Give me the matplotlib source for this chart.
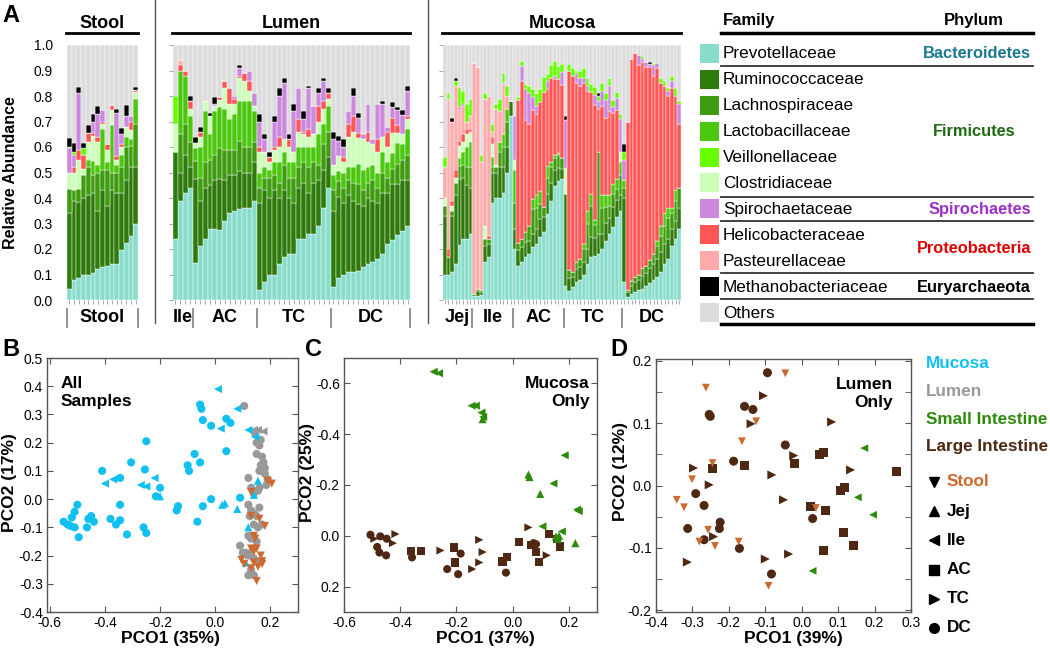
import numpy as np
import matplotlib
matplotlib.use('Agg')
import matplotlib.pyplot as plt
from matplotlib.patches import Rectangle
from matplotlib.transforms import blended_transform_factory

plt.rcParams['font.family'] = ['Liberation Sans', 'DejaVu Sans']
plt.rcParams['axes.unicode_minus'] = False

# ---------------- Panel A data ----------------
families = ['Prevotellaceae', 'Ruminococcaceae', 'Lachnospiraceae', 'Lactobacillaceae',
            'Veillonellaceae', 'Clostridiaceae', 'Spirochaetaceae', 'Helicobacteraceae',
            'Pasteurellaceae', 'Methanobacteriaceae']
family_colors = ['#88DCCB', '#2F7A0C', '#3F9C10', '#4CC70F', '#66FF00', '#CCFFB8',
                 '#CC88DD', '#FF5555', '#FFAAAA', '#000000']
others_label = 'Others'
others_color = '#DCDCDC'
# stacking order (indices into families), bottom to top
stack_order = [0, 1, 2, 3, 5, 7, 8, 6, 4, 9]

phyla = ['Bacteroidetes', 'Firmicutes', 'Spirochaetes', 'Proteobacteria', 'Euryarchaeota']
phyla_colors = ['#1A7A8E', '#1E6B14', '#9B30C8', '#E00000', '#000000']

# Stool (15 samples)
stool_groups = ['Stool']
stool_sizes = [15]
stool_prev = [.045, .078, .085, .098, .10, .105, .12, .13, .135, .14, .14, .195, .225, .25, .30]
stool_rum = [.295, .312, .30, .302, .31, .315, .23, .30, .235, .29, .28, .225, .245, .27, .22]
stool_lach = [.095, .04, .05, .09, .11, .07, .15, .08, .14, .07, .08, .10, .13, .085, .17]
stool_lacto = [0, 0, 0, 0, .03, .055, .03, .16, .03, .185, .03, .05, .04, .025, .10]
stool_veil = [.005, .01, 0, .025, 0, 0, 0, 0, 0, 0, 0, 0, 0, 0, 0]
stool_clos = [.065, .07, .115, .025, .07, .10, .09, .02, .05, .06, .02, .03, .04, .035, .025]
stool_spiro = [.095, .05, .22, 0, 0, .045, .09, .045, 0, 0, .17, .04, .04, .02, 0]
stool_helico = [0, .02, .04, .055, .035, .01, .02, .01, .02, .02, .015, .01, 0, .035, .01]
stool_past = [0, 0, 0, 0, 0, 0, 0, 0, 0, 0, 0, 0, 0, 0, 0]
stool_meth = [.035, .035, .025, .02, .03, .03, .03, 0, 0, 0, .015, .025, .045, 0, .01]

# Lumen (Ile 4, AC 13, TC 15, DC 16)
lumen_groups = ['Ile', 'AC', 'TC', 'DC']
lumen_sizes = [4, 13, 15, 16]
lumen_prev = [.24, .39, .42, .44,
              .145, .21, .24, .28, .28, .275, .31, .34, .35, .355, .36, .36, .39,
              .04, .07, .10, .10, .14, .17, .18, .18, .24, .24, .26, .26, .29, .36, .44,
              .05, .085, .10, .11, .11, .115, .13, .14, .15, .16, .18, .22, .235, .255, .27, .29]
lumen_rum = [.34, .11, .15, .08,
             .33, .18, .20, .17, .19, .20, .16, .15, .14, .15, .14, .14, .15,
             .34, .36, .30, .33, .26, .26, .22, .20, .20, .22, .16, .20, .18, .15, .12,
             .30, .32, .28, .30, .28, .26, .24, .26, .24, .22, .24, .20, .22, .20, .20, .18]
lumen_lach = [0, .15, .12, .10,
              .07, .09, .10, .10, .10, .12, .12, .10, .10, .12, .10, .10, .08,
              .06, .05, .08, .06, .06, .10, .08, .10, .08, .08, .10, .08, .06, .10, .10,
              .08, .06, .06, .06, .07, .08, .06, .06, .08, .06, .08, .06, .06, .08, .08, .10]
lumen_lacto = [0, .25, .19, .10,
               .05, .12, .20, .10, .17, .16, .16, .12, .14, .155, .18, .18, .12,
               .06, .04, .03, .05, .08, .05, .06, .06, .08, .06, .08, .06, .12, .08, .10,
               .06, .04, .06, .05, .06, .08, .08, .06, .06, .06, .08, .06, .06, .08, .06, .10]
lumen_veil = [.11, 0, 0, 0,
              0, 0, 0, 0, 0, 0, 0, 0, 0, 0, 0, 0, 0,
              0, 0, 0, 0, 0, 0, 0, 0, 0, 0, 0, 0, 0, 0, 0,
              0, 0, 0, 0, 0, 0, 0, 0, 0, 0, 0, 0, 0, 0, 0, 0]
lumen_clos = [.11, 0, 0, .03,
              .02, .04, .04, .07, .02, .03, .08, .06, .04, .09, .08, .04, .02,
              .08, .06, .03, .05, .06, .05, .06, .04, .06, .05, .04, .05, .05, .06, .03,
              .04, .06, .04, .12, .14, .10, .12, .10, .08, .08, .06, .06, .08, .04, .04, .04]
lumen_spiro = [0, 0, 0, 0,
               0, 0, 0, 0, .01, 0, 0, 0, .01, .03, 0, .04, .05,
               .10, .05, 0, .10, .16, .22, 0, .16, .12, .05, .16, .11, .05, .08, 0,
               .10, .06, .04, .05, .08, .06, .02, .11, .02, .14, .13, .02, .04, .06, .075, .10]
lumen_helico = [0, .02, .02, .03,
                0, .02, 0, 0, 0, .01, .03, .06, .02, .01, .03, .04, 0,
                .02, 0, .02, .01, .04, 0, .03, 0, .05, .01, .03, 0, .06, .03, .02,
                0, 0, .02, .05, .06, .02, 0, .04, 0, .05, 0, .06, .06, .03, 0, .01]
lumen_past = [0, .02, 0, 0,
              0, 0, 0, 0, 0, 0, 0, 0, 0, 0, 0, 0, 0,
              0, 0, 0, 0, 0, 0, 0, 0, 0, 0, 0, 0, 0, 0, 0,
              0, 0, 0, 0, 0, 0, 0, 0, 0, 0, 0, 0, 0, 0, 0, 0]
lumen_meth = [0, 0, 0, .02,
              .025, .02, 0, .015, .025, 0, 0, 0, 0, .01, 0, 0, 0,
              .03, .02, .02, .02, .03, .02, .02, .03, 0, .03, .01, 0, .02, .01, .02,
              .03, .02, .03, 0, .03, .02, 0, 0, 0, 0, .01, 0, .02, .01, .02, .02]

# Mucosa (Jej 8, Ile 11, AC 14, TC 16, DC 16)
mucosa_groups = ['Jej', 'Ile', 'AC', 'TC', 'DC']
mucosa_sizes = [8, 11, 14, 16, 16]
mucosa_prev = [.10, .10, .11, .14, .215, .24, .24, .26,
               .015, .015, .02, .15, .17, .38, .40, .40, .42, .50, .72,
               .20, .135, .148, .167, .18, .207, .22, .246, .265, .337, .39, .448, .468, .475,
               .056, .037, .05, .07, .08, .10, .14, .167, .174, .18, .20, .233, .26, .285, .324, .35,
               .07, .01, .025, .03, .04, .045, .055, .065, .08, .09, .11, .14, .16, .21, .24, .28]
mucosa_rum = [.23, .07, .22, .27, .26, .24, .21, .18,
              0, .02, .01, .06, .05, .12, .10, .12, .10, .10, .06,
              .08, .06, .06, .06, .05, .05, .06, .07, .06, .08, .07, .06, .05, .04,
              .36, .05, .04, .05, .05, .05, .06, .08, .07, .08, .06, .07, .06, .08, .07, .06,
              .33, .02, .03, .04, .04, .05, .05, .06, .06, .07, .08, .08, .08, .07, .07, .08]
mucosa_lach = [.04, 0, .02, .05, .05, .05, .07, .08,
               .01, .01, .01, .03, .02, .02, .02, .06, .08, .10, 0,
               .10, .03, .03, .04, .06, .10, .08, .06, .04, .06, .06, .05, .05, .04,
               0, .03, .02, .03, .03, .05, .10, .12, .05, .32, .10, .06, .05, .05, .04, .08,
               .04, .01, .02, .02, .02, .03, .03, .03, .04, .05, .06, .07, .08, .06, .08, .08]
mucosa_lacto = [0, 0, 0, 0, .03, .05, .08, .10,
                0, 0, 0, 0, 0, .04, 0, .04, .05, .05, 0,
                .13, 0, 0, 0, 0, .04, .05, .05, 0, .05, .02, .01, .01, 0,
                0, 0, 0, 0, 0, .02, .05, .05, .02, 0, .05, .05, .04, .04, .04, .05,
                .03, 0, 0, 0, 0, 0, 0, 0, 0, .02, .04, .05, .04, .02, .04, 0]
mucosa_veil = [.04, .02, 0, .02, .08, .05, .07, .07,
               0, 0, .03, .02, 0, .03, .02, .05, .04, .04, 0,
               0, .01, .02, .02, .03, .03, .05, .05, .06, .03, .05, .06, .05, .03,
               0, .03, .03, .01, .03, .04, .03, .03, .03, .02, .03, .03, .03, .03, .02, .02,
               .03, 0, 0, 0, 0, .01, 0, 0, .01, 0, .02, .02, .01, .02, .03, .01]
mucosa_clos = [.03, 0, .02, .02, .05, .04, .05, .04,
               0, 0, 0, .05, 0, .05, .01, 0, 0, 0, 0,
               .04, 0, 0, 0, 0, 0, 0, 0, 0, 0, 0, 0, 0, 0,
               .10, 0, 0, 0, 0, 0, 0, 0, 0, 0, 0, 0, 0, 0, 0, .04,
               0, 0, 0, 0, 0, 0, 0, 0, 0, 0, 0, 0, 0, 0, 0, 0]
mucosa_spiro = [0, 0, 0, 0, .01, .01, 0, 0,
                0, 0, 0, 0, 0, 0, 0, 0, 0, 0, 0,
                .17, 0, .06, .12, .12, .05, .03, 0, 0, .03, 0, .01, 0, .05,
                .19, 0, 0, .04, .03, .02, .02, 0, .04, .03, .06, .07, .10, .02, .05, .13,
                .08, 0, 0, 0, .04, .01, .02, .01, .04, .02, 0, 0, .02, .03, 0, .08]
mucosa_helico = [0, .03, .02, .03, .02, .03, .02, .01,
                 0, 0, 0, 0, .01, .03, 0, 0, 0, 0, 0,
                 0, .56, .62, .44, .40, .35, .32, .35, .45, .30, .33, .30, .29, .29,
                 0, .78, .77, .70, .68, .63, .47, .40, .45, .17, .35, .30, .33, .28, .27, 0,
                 0, .66, .87, .88, .82, .81, .78, .76, .70, .68, .56, .50, .44, .47, .37, .25]
mucosa_past = [.12, .59, .31, .33, .12, .11, .03, .05,
               .905, .87, .50, .50, .55, .02, .22, .12, .20, .05, 0,
               0, 0, 0, 0, 0, 0, 0, 0, 0, 0, 0, 0, 0, 0,
               0, 0, 0, 0, 0, 0, 0, 0, 0, 0, 0, 0, 0, 0, 0, 0,
               0, 0, 0, 0, 0, 0, 0, 0, 0, 0, 0, 0, 0, 0, 0, 0]
mucosa_meth = [0, 0, .015, .01, 0, 0, 0, 0,
               0, 0, 0, 0, 0, 0, 0, 0, 0, 0, 0,
               0, 0, 0, 0, 0, 0, 0, 0, 0, 0, 0, 0, 0, 0,
               .015, 0, 0, 0, 0, 0, 0, 0, 0, .01, 0, 0, 0, 0, 0, 0,
               .03, 0, 0, 0, 0, 0, 0, .01, 0, 0, 0, 0, 0, 0, 0, 0]

stool_data = [stool_prev, stool_rum, stool_lach, stool_lacto, stool_veil, stool_clos,
              stool_spiro, stool_helico, stool_past, stool_meth]
lumen_data = [lumen_prev, lumen_rum, lumen_lach, lumen_lacto, lumen_veil, lumen_clos,
              lumen_spiro, lumen_helico, lumen_past, lumen_meth]
mucosa_data = [mucosa_prev, mucosa_rum, mucosa_lach, mucosa_lacto, mucosa_veil, mucosa_clos,
               mucosa_spiro, mucosa_helico, mucosa_past, mucosa_meth]

# ---------------- PCoA data ----------------
# Panel B (All samples)
b_muc_dc_x = [-0.55, -0.535, -0.52, -0.51, -0.50, -0.51, -0.525, -0.495, -0.465, -0.46, -0.45, -0.44,
              -0.41, -0.38, -0.36, -0.345, -0.345, -0.345, -0.32, -0.305, -0.255, -0.25, -0.26, -0.25,
              -0.20, -0.215, -0.14, -0.135, -0.10, -0.095, -0.075, -0.065, -0.055, -0.055, -0.05,
              -0.045, -0.045, -0.015, -0.015, 0.04, 0.04, 0.055, 0.09]
b_muc_dc_y = [-0.08, -0.09, -0.065, -0.045, -0.02, -0.10, -0.095, -0.135, -0.10, -0.07, -0.06, -0.08,
              0.10, -0.07, -0.09, 0.075, -0.02, -0.075, -0.125, 0.13, 0.105, 0.205, -0.10, -0.12,
              0.04, 0.01, -0.04, -0.025, 0.12, 0.10, 0.16, -0.08, 0.13, 0.335, 0.32, 0.28, -0.025,
              0.26, 0.0, 0.17, 0.285, 0.27, 0.005]
b_muc_ile_x = [-0.40, -0.37, -0.27, -0.25, -0.22, 0.01, 0.02, 0.08, 0.12, 0.145]
b_muc_ile_y = [0.055, 0.07, 0.05, 0.045, 0.075, 0.39, 0.25, 0.32, 0.245, 0.22]
b_muc_jej_x = [-0.20, 0.025, 0.035, 0.08, 0.12, 0.14, 0.11, 0.155]
b_muc_jej_y = [0.01, -0.02, -0.015, -0.035, -0.10, 0.015, -0.225, 0.065]
b_lum_dc_x = [0.145, 0.15, 0.16, 0.165, 0.15, 0.17, 0.175, 0.165, 0.16, 0.18, 0.18, 0.19, 0.185, 0.16,
              0.12, 0.13, 0.14, 0.155, 0.12, 0.13, 0.14, 0.15, 0.16, 0.125, 0.14, 0.155, 0.17, 0.12,
              0.13, 0.15, 0.09, 0.11, 0.12, 0.13, 0.14, 0.15, 0.13, 0.14, 0.12, 0.10, 0.105]
b_lum_dc_y = [0.23, 0.20, 0.19, 0.21, 0.16, 0.15, 0.13, 0.12, 0.10, 0.11, 0.09, 0.07, 0.05, 0.04,
              0.075, 0.04, 0.02, 0.03, -0.02, -0.04, -0.05, -0.06, -0.03, -0.06, -0.09, -0.10, -0.09,
              -0.13, -0.14, -0.15, -0.165, -0.19, -0.20, -0.19, -0.21, -0.22, -0.25, -0.27, -0.27,
              -0.19, 0.33]
b_lum_ile_x = [0.14, 0.155, 0.175]
b_lum_ile_y = [0.245, 0.245, 0.24]
b_stool_x = [0.13, 0.205, 0.19, 0.13, 0.16, 0.18, 0.14, 0.145, 0.15, 0.13, 0.14, 0.165, 0.17, 0.155,
             0.095, 0.105, 0.14, 0.17, 0.15, 0.13]
b_stool_y = [0.025, 0.055, 0.065, -0.06, -0.07, -0.095, -0.13, -0.14, -0.175, -0.175, -0.185, -0.20,
             -0.22, -0.24, -0.215, -0.23, -0.225, -0.23, -0.29, -0.245]

# Panel C (Mucosa only)
c_si_ile_x = [-0.281, -0.262, -0.146, -0.131, -0.111, -0.105, 0.145, 0.106, 0.185, 0.229, 0.235, 0.175]
c_si_ile_y = [-0.646, -0.640, -0.512, -0.512, -0.485, -0.468, -0.206, -0.037, -0.317, -0.103, -0.097, -0.017]
c_si_jej_x = [-0.107, 0.056, 0.06, 0.098, 0.165, 0.223, 0.154, 0.16]
c_si_jej_y = [-0.459, -0.241, -0.231, -0.165, 0.0, 0.029, 0.002, 0.012]
c_li_dc_x = [-0.506, -0.471, -0.482, -0.474, -0.45, -0.448, -0.358, -0.233, -0.194, -0.185, -0.024, 0.074, 0.083]
c_li_dc_y = [-0.004, 0.002, 0.044, 0.066, 0.077, 0.0115, 0.085, 0.131, 0.151, 0.07, 0.145, 0.029, 0.033]
c_li_tc_x = [-0.492, -0.417, -0.426, -0.257, -0.144, -0.119, -0.107, -0.119, 0.056, 0.121]
c_li_tc_y = [0.0115, -0.007, 0.029, 0.058, 0.131, 0.016, 0.064, 0.105, -0.033, 0.077]
c_li_ac_x = [-0.361, -0.327, -0.208, -0.204, -0.036, -0.021, 0.024, 0.065, 0.082, 0.095, 0.13, 0.157, 0.169]
c_li_ac_y = [0.059, 0.059, 0.046, 0.105, 0.101, 0.085, 0.026, 0.035, 0.064, 0.104, -0.007, 0.0115, 0.042]

# Panel D (Lumen only)
d_li_dc_x = [-0.094, -0.157, -0.134, -0.254, -0.251, -0.045, -0.187, -0.291, -0.268, -0.313, -0.268,
             -0.224, -0.226, -0.171, 0.03, -0.083]
d_li_dc_y = [0.181, 0.127, 0.122, 0.114, 0.111, 0.065, 0.039, -0.013, -0.032, -0.069, -0.087,
             -0.059, -0.069, -0.101, -0.053, -0.142]
d_li_tc_x = [-0.105, -0.139, 0.082, -0.022, -0.082, -0.297, -0.254, -0.05, -0.242, -0.314, -0.1, -0.036, 0.134]
d_li_tc_y = [0.144, 0.099, 0.102, 0.048, 0.017, 0.028, 0.001, -0.023, -0.082, -0.123, -0.118, -0.11, 0.025]
d_li_ac_x = [-0.244, -0.157, -0.019, 0.05, 0.06, 0.024, 0.065, 0.106, 0.118, 0.116, 0.06, 0.143, 0.26]
d_li_ac_y = [0.028, 0.032, 0.035, 0.049, 0.053, -0.034, -0.04, -0.008, -0.004, -0.075, -0.104, -0.097, 0.023]
d_stool_x = [-0.263, -0.045, -0.125, -0.164, -0.245, -0.301, -0.343, -0.323, -0.257, -0.281, -0.238,
             -0.173, -0.091, 0.039]
d_stool_y = [0.157, 0.18, 0.103, 0.071, 0.036, 0.01, -0.023, -0.035, -0.071, -0.09, -0.097,
             -0.09, -0.161, -0.036]
d_si_ile_x = [0.172, 0.154, 0.196, 0.03]
d_si_ile_y = [0.06, -0.019, -0.047, -0.137]

col_mucosa = '#10C0F0'
col_lumen = '#999999'
col_small = '#2E8B0A'
col_large = '#4E2812'
col_stool = '#CC6A30'

site_names = ['Stool', 'Jej', 'Ile', 'AC', 'TC', 'DC']
site_markers = ['v', '^', '<', 's', '>', 'o']

# ---------------- Figure ----------------
W, H = 1050, 649
fig = plt.figure(figsize=(W / 100, H / 100), dpi=100)


def add_ax(l, t, r, b):
    return fig.add_axes([l / W, 1 - b / H, (r - l) / W, (b - t) / H])


ov = fig.add_axes([0, 0, 1, 1], zorder=10)
ov.set_xlim(0, W)
ov.set_ylim(H, 0)
ov.axis('off')


def draw_bars(ax, data, gnames, gsizes, sep_idx, ylabels):
    n = len(data[0])
    x = np.arange(n)
    bottom = np.zeros(n)
    for k in stack_order:
        vals = np.array(data[k], dtype=float)
        ax.bar(x, vals, bottom=bottom, width=1.0, color=family_colors[k],
               edgecolor='white', linewidth=0.3)
        bottom += vals
    ax.bar(x, 1 - bottom, bottom=bottom, width=1.0, color=others_color,
           edgecolor='white', linewidth=0.3)
    ax.set_xlim(-0.5, n - 0.5)
    ax.set_ylim(0, 1)
    for s in ax.spines.values():
        s.set_visible(False)
    ax.set_xticks(x)
    ax.set_xticklabels([])
    ax.tick_params(axis='x', length=3, color='#999999', width=0.6)
    yt = [round(v * 0.1, 1) for v in range(11)]
    ax.set_yticks(yt)
    if ylabels:
        ax.set_yticklabels([f'{v:.1f}' for v in yt], fontsize=10)
        ax.tick_params(axis='y', length=0, pad=10)
    else:
        ax.set_yticklabels([])
        ax.tick_params(axis='y', length=3, color='#999999', width=0.6)
    tr = blended_transform_factory(ax.transData, ov.transData)
    edges = np.concatenate([[0], np.cumsum(gsizes)]) - 0.5
    for i, name in enumerate(gnames):
        mid = (edges[i] + edges[i + 1]) / 2
        ov.text(mid, 318, name, transform=tr, ha='center', va='center',
                fontsize=13, fontweight='bold')
    for i in sep_idx:
        ov.plot([edges[i], edges[i]], [309, 327], transform=tr, color='#888888', lw=1.3)


ax_st = add_ax(67, 45, 138, 300)
ax_lu = add_ax(173, 45, 410, 300)
ax_mu = add_ax(443, 45, 681, 300)
draw_bars(ax_st, stool_data, stool_groups, stool_sizes, [0, 1], True)
draw_bars(ax_lu, lumen_data, lumen_groups, lumen_sizes, [1, 2, 3, 4], False)
draw_bars(ax_mu, mucosa_data, mucosa_groups, mucosa_sizes, [1, 2, 3, 4], False)
ax_st.set_ylabel('Relative Abundance', fontsize=11.5, fontweight='bold')
ax_st.yaxis.set_label_coords(-0.69, 0.5)

for ax, title in [(ax_st, 'Stool'), (ax_lu, 'Lumen'), (ax_mu, 'Mucosa')]:
    bb = ax.get_position()
    l, r = bb.x0 * W, bb.x1 * W
    ov.text((l + r) / 2, 23, title, ha='center', va='center', fontsize=13, fontweight='bold')
    ov.plot([l - 1, r], [33, 33], color='black', lw=2)

ov.plot([155, 155], [0, 323], color='#555555', lw=1)
ov.plot([428, 428], [0, 323], color='#555555', lw=1)

# Panel A legend table
legend_labels = families + [others_label]
legend_colors = family_colors + [others_color]
row_y = [53.3 + i * 25.93 for i in range(len(legend_labels))]
for y, lab, c in zip(row_y, legend_labels, legend_colors):
    ov.add_patch(Rectangle((700, y - 9.5), 19, 19, facecolor=c, edgecolor='none'))
    ov.text(723, y + 0.5, lab, fontsize=12.3, ha='left', va='center')
ov.text(723, 20, 'Family', fontsize=12, fontweight='bold', ha='left', va='center')
ov.text(974, 20, 'Phylum', fontsize=12, fontweight='bold', ha='center', va='center')
ov.plot([721, 1033], [33.3, 33.3], color='black', lw=2.5)
for y in [65.7, 196.7, 220.7, 273.3, 298.7]:
    ov.plot([721, 1033], [y, y], color='#333333', lw=1.3)
ov.plot([721, 1033], [324, 324], color='black', lw=2.5)
phyla_y = [row_y[0], (row_y[1] + row_y[5]) / 2, row_y[6], (row_y[7] + row_y[8]) / 2, row_y[9]]
phyla_x = [1031, 974, 1031, 1031, 1031]
phyla_ha = ['right', 'center', 'right', 'right', 'right']
for p, c, x, y, ha in zip(phyla, phyla_colors, phyla_x, phyla_y, phyla_ha):
    ov.text(x, y + 0.5, p, color=c, fontsize=11.8, fontweight='bold', ha=ha, va='center')


# ---------------- PCoA panels ----------------
def style_ax(ax, xlim, ylim, xticks, yticks, xlabel, ylabel, xl_pos, yl_pos, yminor=None):
    ax.set_xlim(xlim)
    ax.set_ylim(ylim)
    ax.set_xticks(xticks)
    ax.set_yticks(yticks)
    if yminor is not None:
        ax.set_yticks(yminor, minor=True)
    ax.set_xticklabels([f'{v:.1f}' for v in xticks])
    ax.set_yticklabels([f'{v:.1f}' for v in yticks])
    for s in ax.spines.values():
        s.set_color('#555555')
        s.set_linewidth(1)
    ax.tick_params(which='both', direction='in', top=True, right=True, labeltop=False,
                   labelright=False, length=4, labelsize=10, color='#555555', pad=3)
    ax.set_xlabel(xlabel, fontsize=12.5, fontweight='bold')
    ax.set_ylabel(ylabel, fontsize=12.5, fontweight='bold')
    ax.xaxis.set_label_coords(*xl_pos)
    ax.yaxis.set_label_coords(*yl_pos)


ax_b = add_ax(47, 358, 298, 612)
ax_c = add_ax(344, 358, 597, 612)
ax_d = add_ax(656, 359, 911, 612)

ms_b = 34
ax_b.scatter(b_lum_dc_x, b_lum_dc_y, s=ms_b, marker='o', color=col_lumen, edgecolors='none')
ax_b.scatter(b_lum_ile_x, b_lum_ile_y, s=ms_b, marker='<', color=col_lumen, edgecolors='none')
ax_b.scatter(b_muc_dc_x, b_muc_dc_y, s=ms_b, marker='o', color=col_mucosa, edgecolors='none')
ax_b.scatter(b_muc_ile_x, b_muc_ile_y, s=ms_b, marker='<', color=col_mucosa, edgecolors='none')
ax_b.scatter(b_muc_jej_x, b_muc_jej_y, s=ms_b, marker='^', color=col_mucosa, edgecolors='none')
ax_b.scatter(b_stool_x, b_stool_y, s=ms_b, marker='v', color=col_stool, edgecolors='none')
style_ax(ax_b, (-0.61, 0.30), (-0.4, 0.5), [-0.6, -0.4, -0.2, 0.0, 0.2],
         [-0.4, -0.3, -0.2, -0.1, 0.0, 0.1, 0.2, 0.3, 0.4, 0.5],
         'PCO1 (35%)', 'PCO2 (17%)', (0.49, -0.075), (-0.12, 0.51))
ax_b.text(0.055, 0.93, 'All\nSamples', transform=ax_b.transAxes, fontsize=12.5,
          fontweight='bold', ha='left', va='top', linespacing=1.3)

ms_c = 34
ax_c.scatter(c_li_dc_x, c_li_dc_y, s=ms_c, marker='o', color=col_large, edgecolors='none')
ax_c.scatter(c_li_tc_x, c_li_tc_y, s=ms_c, marker='>', color=col_large, edgecolors='none')
ax_c.scatter(c_li_ac_x, c_li_ac_y, s=ms_c, marker='s', color=col_large, edgecolors='none')
ax_c.scatter(c_si_ile_x, c_si_ile_y, s=ms_c, marker='<', color=col_small, edgecolors='none')
ax_c.scatter(c_si_jej_x, c_si_jej_y, s=ms_c, marker='^', color=col_small, edgecolors='none')
style_ax(ax_c, (-0.6, 0.3), (0.3, -0.7), [-0.6, -0.4, -0.2, 0.0, 0.2],
         [-0.6, -0.4, -0.2, 0.0, 0.2],
         'PCO1 (37%)', 'PCO2 (25%)', (0.56, -0.075), (-0.115, 0.55))
ax_c.text(0.97, 0.93, 'Mucosa\nOnly', transform=ax_c.transAxes, fontsize=12.5,
          fontweight='bold', ha='right', va='top', multialignment='right', linespacing=1.3)

ms_d = 42
ax_d.scatter(d_li_dc_x, d_li_dc_y, s=ms_d, marker='o', color=col_large, edgecolors='none')
ax_d.scatter(d_li_tc_x, d_li_tc_y, s=ms_d, marker='>', color=col_large, edgecolors='none')
ax_d.scatter(d_li_ac_x, d_li_ac_y, s=ms_d, marker='s', color=col_large, edgecolors='none')
ax_d.scatter(d_stool_x, d_stool_y, s=ms_d * 0.75, marker='v', color=col_stool, edgecolors='none')
ax_d.scatter(d_si_ile_x, d_si_ile_y, s=ms_d * 0.75, marker='<', color=col_small, edgecolors='none')
style_ax(ax_d, (-0.4, 0.3), (-0.203, 0.203), [-0.4, -0.3, -0.2, -0.1, 0.0, 0.1, 0.2, 0.3],
         [-0.2, -0.1, 0.0, 0.1, 0.2],
         'PCO1 (39%)', 'PCO2 (12%)', (0.54, -0.075), (-0.11, 0.555),
         yminor=[-0.15, -0.05, 0.05, 0.15])
ax_d.text(0.93, 0.93, 'Lumen\nOnly', transform=ax_d.transAxes, fontsize=12.5,
          fontweight='bold', ha='right', va='top', multialignment='right', linespacing=1.3)

# Panel letters
for lab, x, y in [('A', 11, 15), ('B', 11, 350), ('C', 314, 350), ('D', 619, 350)]:
    ov.text(x, y, lab, fontsize=17, fontweight='bold', ha='center', va='center')

# Right-hand legend for B-D
for name, c, y in [('Mucosa', col_mucosa, 364), ('Lumen', col_lumen, 391),
                   ('Small Intestine', col_small, 419), ('Large Intestine', col_large, 447)]:
    ov.text(926, y, name, color=c, fontsize=12.3, fontweight='bold', ha='left', va='center')
for i, (name, m) in enumerate(zip(site_names, site_markers)):
    y = 482 + i * 29.2
    ov.plot([934], [y], marker=m, color='black', markersize=7, linestyle='none')
    ov.text(947, y, name, color=(col_stool if name == 'Stool' else 'black'),
            fontsize=12.3, fontweight='bold', ha='left', va='center')

fig.savefig('out.png', dpi=100)
